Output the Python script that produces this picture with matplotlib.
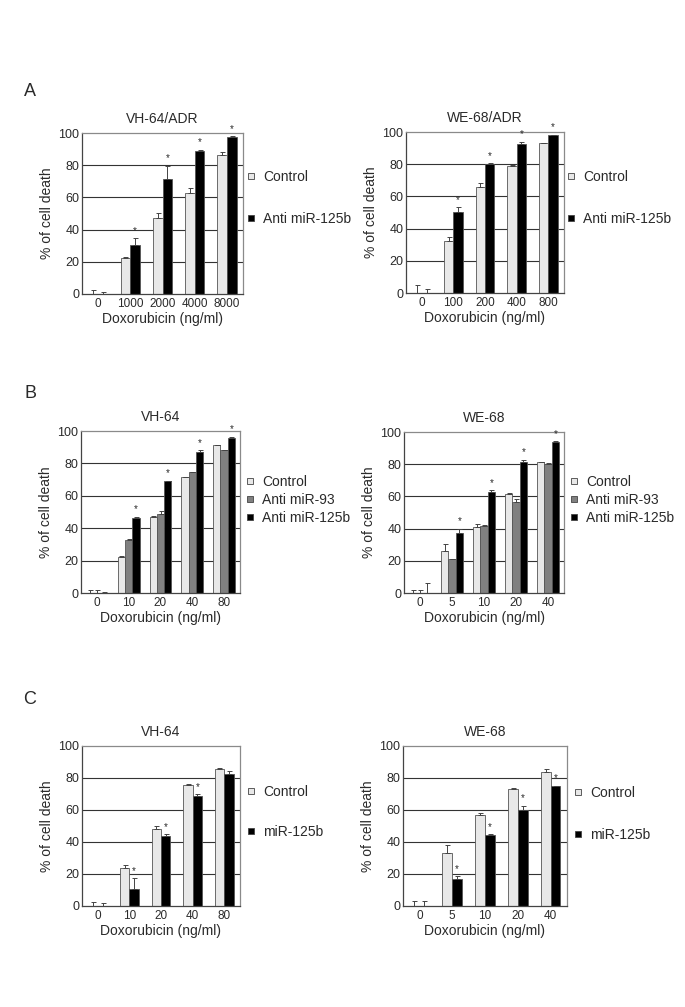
import numpy as np
import matplotlib
matplotlib.use('Agg')
import matplotlib.pyplot as plt
from matplotlib.lines import Line2D

plt.rcParams['font.family'] = ['Liberation Sans', 'DejaVu Sans']
plt.rcParams['text.color'] = '#2a2a2a'
plt.rcParams['axes.labelcolor'] = '#2a2a2a'
plt.rcParams['xtick.color'] = '#2a2a2a'
plt.rcParams['ytick.color'] = '#2a2a2a'

# ---- data ----
doses_A1 = ['0', '1000', '2000', '4000', '8000']
ctrl_A1 = [0, 22.4, 47.2, 62.7, 86.5]
ctrl_A1_err = [2.7, 0.3, 3.1, 3.1, 1.7]
anti125_A1 = [0, 30.6, 71.4, 88.6, 97.5]
anti125_A1_err = [1.2, 4.2, 8.3, 1.0, 0.4]

doses_A2 = ['0', '100', '200', '400', '800']
ctrl_A2 = [0, 32.6, 66.1, 79.1, 93.0]
ctrl_A2_err = [5.2, 2.1, 2.5, 0.3, 0.2]
anti125_A2 = [0, 50.6, 80.0, 92.6, 98.0]
anti125_A2_err = [2.7, 2.7, 0.6, 1.4, 0.3]

doses_B1 = ['0', '10', '20', '40', '80']
ctrl_B1 = [0, 22.3, 47.0, 71.3, 91.2]
ctrl_B1_err = [1.6, 0.5, 0.4, 0.3, 0.1]
anti93_B1 = [0, 32.6, 49.0, 74.4, 88.3]
anti93_B1_err = [2.0, 0.5, 1.7, 0.3, 0.1]
anti125_B1 = [0, 46.0, 69.0, 87.2, 95.5]
anti125_B1_err = [0.8, 1.0, 0.3, 1.0, 1.0]

doses_B2 = ['0', '5', '10', '20', '40']
ctrl_B2 = [0, 26.0, 41.0, 61.3, 81.4]
ctrl_B2_err = [2.0, 4.2, 2.0, 1.0, 0.1]
anti93_B2 = [0, 21.3, 41.4, 56.5, 79.9]
anti93_B2_err = [2.0, 0.1, 0.6, 1.7, 0.8]
anti125_B2 = [0, 37.3, 62.7, 81.4, 93.6]
anti125_B2_err = [6.4, 2.7, 1.1, 1.4, 0.6]

doses_C1 = ['0', '10', '20', '40', '80']
ctrl_C1 = [0, 23.5, 48.0, 75.5, 85.4]
ctrl_C1_err = [2.7, 2.1, 2.1, 0.5, 0.9]
mir125_C1 = [0, 10.6, 43.7, 68.6, 82.7]
mir125_C1_err = [1.7, 6.7, 1.2, 1.3, 1.5]

doses_C2 = ['0', '5', '10', '20', '40']
ctrl_C2 = [0, 33.0, 56.7, 73.2, 83.7]
ctrl_C2_err = [3.1, 4.9, 1.5, 0.6, 2.1]
mir125_C2 = [0, 16.7, 44.6, 60.3, 74.9]
mir125_C2_err = [3.1, 2.1, 0.3, 2.5, 0.3]

# which bars carry a significance star (last series of each panel)
stars_A1 = [0, 1, 1, 1, 1]
stars_A2 = [0, 1, 1, 1, 1]
stars_B1 = [0, 1, 1, 1, 1]
stars_B2 = [0, 1, 1, 1, 1]
stars_C1 = [0, 1, 1, 1, 0]
stars_C2 = [0, 1, 1, 1, 1]

C_CTRL = '#e8e8e8'
C_93 = '#808080'
C_125 = '#000000'

W, H = 685, 1007
fig = plt.figure(figsize=(W / 100, H / 100), dpi=100)
fig.patch.set_facecolor('white')


def px_axes(left, right, top, bottom):
    return fig.add_axes([left / W, 1 - bottom / H, (right - left) / W, (bottom - top) / H])


def panel(box, title, doses, series, stars, leg_xy, leg_space):
    ax = px_axes(*box)
    n = len(series)
    width = 0.3 if n == 2 else 0.23
    x = np.arange(len(doses))
    for yv in [20, 40, 60, 80]:
        ax.axhline(yv, color='#333333', lw=0.8, zorder=1)
    handles = []
    for i, (vals, errs, col, lab) in enumerate(series):
        xs = x + (i - (n - 1) / 2) * width
        ax.bar(xs, vals, width, color=col, edgecolor='#555555', linewidth=0.6, zorder=2)
        ax.errorbar(xs, vals, yerr=[np.zeros(len(errs)), errs], fmt='none',
                    ecolor='#444444', elinewidth=0.7, capsize=1.8, capthick=0.7, zorder=3)
        handles.append(Line2D([], [], ls='none', marker='s', markersize=4.5,
                              markerfacecolor=col, markeredgecolor='#444444',
                              markeredgewidth=0.6, label=lab))
    # stars above the last series
    vals, errs = series[-1][0], series[-1][1]
    xs = x + ((n - 1) - (n - 1) / 2) * width
    for xi, v, e, s in zip(xs, vals, errs, stars):
        if s:
            ax.text(xi, v + e + 4.5, '*', ha='center', va='center', fontsize=7,
                    clip_on=False, zorder=4)
    ax.set_xlim(-0.5, len(doses) - 0.5)
    ax.set_ylim(0, 100)
    ax.set_yticks([0, 20, 40, 60, 80, 100])
    ax.set_xticks(x)
    ax.set_xticklabels(doses)
    ax.tick_params(axis='both', length=0)
    ax.tick_params(axis='x', labelsize=8.5, pad=3)
    ax.tick_params(axis='y', labelsize=9, pad=2)
    for sp in ['left', 'bottom']:
        ax.spines[sp].set_color('#444444')
        ax.spines[sp].set_linewidth(0.9)
    for sp in ['top', 'right']:
        ax.spines[sp].set_color('#8a8a8a')
        ax.spines[sp].set_linewidth(0.9)
    ax.set_title(title, fontsize=10, pad=7)
    ax.set_xlabel('Doxorubicin (ng/ml)', fontsize=10, labelpad=1)
    ax.set_ylabel('% of cell death', fontsize=10, labelpad=3)
    ax.legend(handles=handles, loc='center left',
              bbox_to_anchor=(leg_xy[0] / W, 1 - leg_xy[1] / H),
              bbox_transform=fig.transFigure, frameon=False, fontsize=10,
              handlelength=0.8, handletextpad=0.5, borderpad=0, borderaxespad=0,
              labelspacing=leg_space)
    return ax


panel((82, 243, 133, 294), 'VH-64/ADR', doses_A1,
      [(ctrl_A1, ctrl_A1_err, C_CTRL, 'Control'),
       (anti125_A1, anti125_A1_err, C_125, 'Anti miR-125b')],
      stars_A1, (245, 198), 2.0)
panel((406, 564, 132, 293), 'WE-68/ADR', doses_A2,
      [(ctrl_A2, ctrl_A2_err, C_CTRL, 'Control'),
       (anti125_A2, anti125_A2_err, C_125, 'Anti miR-125b')],
      stars_A2, (565, 198), 2.0)
panel((81, 240, 431, 593), 'VH-64', doses_B1,
      [(ctrl_B1, ctrl_B1_err, C_CTRL, 'Control'),
       (anti93_B1, anti93_B1_err, C_93, 'Anti miR-93'),
       (anti125_B1, anti125_B1_err, C_125, 'Anti miR-125b')],
      stars_B1, (244, 500), 0.3)
panel((404, 564, 432, 593), 'WE-68', doses_B2,
      [(ctrl_B2, ctrl_B2_err, C_CTRL, 'Control'),
       (anti93_B2, anti93_B2_err, C_93, 'Anti miR-93'),
       (anti125_B2, anti125_B2_err, C_125, 'Anti miR-125b')],
      stars_B2, (568, 500), 0.3)
panel((82, 240, 746, 906), 'VH-64', doses_C1,
      [(ctrl_C1, ctrl_C1_err, C_CTRL, 'Control'),
       (mir125_C1, mir125_C1_err, C_125, 'miR-125b')],
      stars_C1, (245, 812), 1.9)
panel((403, 567, 746, 906), 'WE-68', doses_C2,
      [(ctrl_C2, ctrl_C2_err, C_CTRL, 'Control'),
       (mir125_C2, mir125_C2_err, C_125, 'miR-125b')],
      stars_C2, (572, 814), 2.0)

for letter, y in [('A', 92), ('B', 393), ('C', 700)]:
    fig.text(30 / W, 1 - y / H, letter, fontsize=13, ha='center', va='center')

fig.savefig('out.png', dpi=100)
